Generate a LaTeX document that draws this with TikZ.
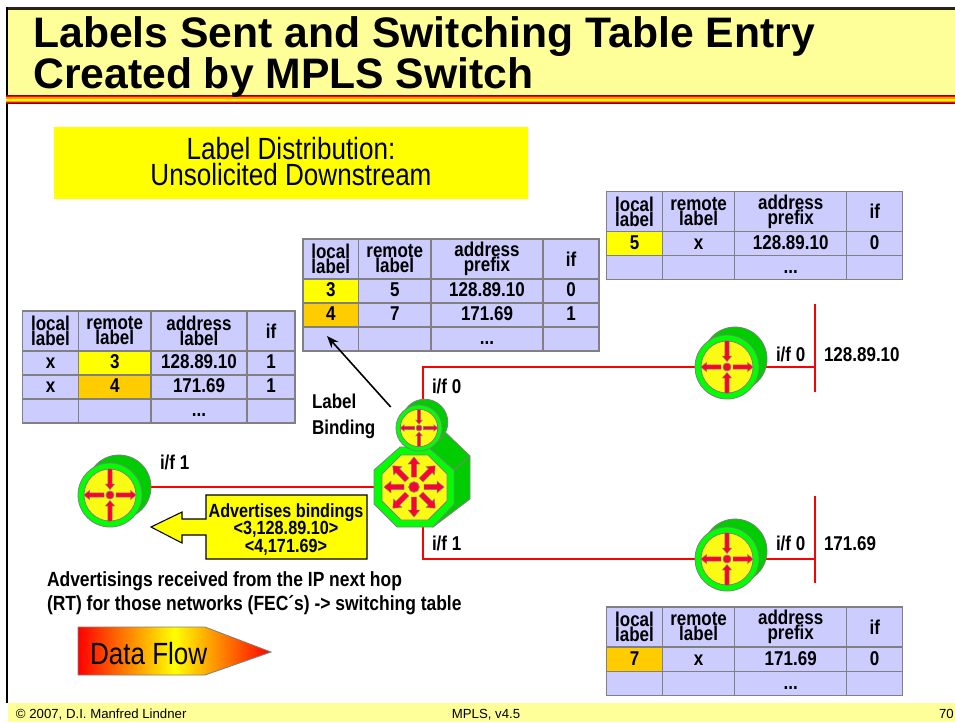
\documentclass[tikz,border=0pt]{standalone}
\usepackage{fontspec}
\setmainfont{Liberation Sans}
\newfontfamily\cond[FakeStretch=0.85]{Liberation Sans}
\usetikzlibrary{arrows.meta}
\definecolor{hdryellow}{HTML}{FFFF99}
\definecolor{tblue}{HTML}{CCCCFF}
\definecolor{torange}{HTML}{FFCC00}
\definecolor{lgreen}{HTML}{00FF00}
\definecolor{dgreen}{HTML}{00CC00}
\definecolor{iconred}{HTML}{FF0033}
\definecolor{icongray}{HTML}{808080}
\definecolor{iconyellow}{HTML}{FAFA14}
\definecolor{pureyellow}{HTML}{FFFF00}
\definecolor{purered}{HTML}{FF0000}
\definecolor{stripedark}{HTML}{8C0000}
\definecolor{stripeorange}{HTML}{FF9900}
\pgfdeclarehorizontalshading{dflowshade}{100bp}{rgb(0bp)=(1,0,0); rgb(25bp)=(1,0,0); rgb(50bp)=(1,1,0); rgb(75bp)=(1,0,0); rgb(100bp)=(1,0,0)}
\newcounter{cellno}
\newcommand{\setcols}[5]{\def\xa{#1}\def\xb{#2}\def\xc{#3}\def\xd{#4}\def\xe{#5}}
\newcommand{\onecell}[6]{\stepcounter{cellno}%
  \node[tcell,fill=#5,minimum width={(#3-#1)*0.75pt},minimum height={(#4-#2)*0.75pt}]
    (c\arabic{cellno}) at ({(#1+#3)/2},{(#2+#4)/2}) {#6};}
\newcommand{\hdrrow}[6]{%
  \onecell{\xa}{#1}{\xb}{#2}{tblue}{#3}\onecell{\xb}{#1}{\xc}{#2}{tblue}{#4}%
  \onecell{\xc}{#1}{\xd}{#2}{tblue}{#5}\onecell{\xd}{#1}{\xe}{#2}{tblue}{#6}}
\newcommand{\datarow}[7]{%
  \onecell{\xa}{#1}{\xb}{#2}{#3}{\dstrut #4}\onecell{\xb}{#1}{\xc}{#2}{tblue}{\dstrut #5}%
  \onecell{\xc}{#1}{\xd}{#2}{tblue}{\dstrut #6}\onecell{\xd}{#1}{\xe}{#2}{tblue}{\dstrut #7}}
\newcommand{\dstrut}{\rule[-2.2pt]{0pt}{13pt}}
% router icon: #1 x, #2 y, #3 back dx, #4 back dy, #5 scale
\newcommand{\routericon}[5]{%
  \begin{scope}[shift={(#1,#2)},scale=#5]
    \fill[dgreen,draw=icongray,icon line] (#3,#4) circle (32);
    \fill[lgreen,draw=icongray,icon line] (0,0) circle (32);
    \fill[iconyellow,draw=icongray,icon line] (0,0) circle (26);
    \foreach \a in {0,180}{\draw[iconarrow,rotate=\a] (6,-2.2) -- (20.5,-2.2) -- (20.5,-4.6) -- (26,0) -- (20.5,4.6) -- (20.5,2.2) -- (6,2.2) -- cycle;}
    \foreach \a in {90,270}{\draw[iconarrow,rotate=\a] (26,-2.2) -- (11,-2.2) -- (11,-4.6) -- (5.5,0) -- (11,4.6) -- (11,2.2) -- (26,2.2) -- cycle;}
    \fill[iconred,draw=icongray,icon line] (0,0) circle (4);
  \end{scope}}
\tikzset{
  x=0.75pt,y=-0.75pt,
  tcell/.style={draw=icongray,line width=0.8pt,inner sep=0pt,outer sep=0pt,align=center,
    font=\fontsize{15}{11.25}\selectfont\cond\bfseries},
  icon line/.style={line width=0.6pt},
  iconarrow/.style={fill=iconred,draw=icongray,line width=0.35pt},
  redline/.style={draw=purered,line width=1.3pt},
  txt/.style={inner sep=0pt,outer sep=0pt,font=\fontsize{15}{18}\selectfont\cond\bfseries},
  bigtxt/.style={inner sep=0pt,outer sep=0pt,font=\fontsize{23}{18}\selectfont\cond},
  foot/.style={inner sep=0pt,outer sep=0pt,font=\fontsize{9.9}{11}\selectfont},
  titletxt/.style={anchor=base west,inner sep=0pt,font=\fontsize{32}{32}\selectfont\bfseries},
}
\begin{document}
\begin{tikzpicture}
\useasboundingbox (0,0) rectangle (955,722);
% frame
\fill[white] (0,0) rectangle (955,722);
\fill[hdryellow] (8,9) rectangle (955,95);
\fill[black!85!hdryellow] (6,7.3) rectangle (955,9.7);
\fill[black] (6,7.3) rectangle (8.3,703);
\fill[hdryellow] (8.3,703) rectangle (955,722);
% stripe
\fill[stripedark] (6,95) rectangle (955,104);
\fill[purered] (6,96) rectangle (955,103);
\fill[stripeorange] (6,97.3) rectangle (955,101.7);
\fill[pureyellow] (6,98.5) rectangle (955,100.5);
% title
\node[titletxt] (t1) at (33,47.5) {Labels Sent and Switching Table Entry};
\node[titletxt] (t2) at (33,88) {Created by MPLS Switch};
% footer
\node[foot,anchor=base west] (f1) at (16,718.5) {© 2007, D.I. Manfred Lindner};
\node[foot,anchor=base] (f2) at (486,718.5) {MPLS, v4.5};
\node[foot,anchor=base west] (f3) at (939,718.5) {70};
% yellow box
\fill[pureyellow] (54,127) rectangle (528,199);
\node[bigtxt,anchor=base] (ld1) at (291,159) {Label Distribution:};
\node[bigtxt,anchor=base] (ld2) at (291,185) {Unsolicited Downstream};
% tables
\setcols{606.5}{662.5}{734.7}{846.7}{902.7}
\hdrrow{191.7}{231.7}{local\\label}{remote\\label}{address\\prefix}{if}
\datarow{231.7}{255.7}{pureyellow}{5}{x}{128.89.10}{0}
\datarow{255.7}{279.3}{tblue}{}{}{...}{}
\setcols{303}{358.5}{431}{543}{599}
\hdrrow{239}{279}{local\\label}{remote\\label}{address\\prefix}{if}
\datarow{279}{303}{pureyellow}{3}{5}{128.89.10}{0}
\datarow{303}{327}{torange}{4}{7}{171.69}{1}
\datarow{327}{351}{tblue}{}{}{...}{}
\setcols{22.5}{78.5}{151}{247}{295}
\hdrrow{311}{351}{local\\label}{remote\\label}{address\\label}{if}
\datarow{351}{375}{tblue}{x}{}{128.89.10}{1}
\datarow{375}{399}{tblue}{x}{}{171.69}{1}
\datarow{399}{423}{tblue}{}{}{...}{}
\onecell{78.5}{351}{151}{375}{pureyellow}{\dstrut 3}
\onecell{78.5}{375}{151}{399}{torange}{\dstrut 4}
\setcols{606.5}{662.5}{734.7}{846.7}{902.7}
\hdrrow{607}{647}{local\\label}{remote\\label}{address\\prefix}{if}
\datarow{647}{671.5}{torange}{7}{x}{171.69}{0}
\datarow{671.5}{695.5}{tblue}{}{}{...}{}
% connector ends
\coordinate (rl) at (150,487);
\coordinate (swl) at (376,487);
\coordinate (swt) at (422.7,410);
\coordinate (swb) at (422.7,525);
\coordinate (rt) at (700,367);
\coordinate (rb) at (700,559);
\coordinate (rte) at (760,367);
\coordinate (rbe) at (760,559);
\coordinate (nt) at (815,367);
\coordinate (nb) at (815,559);
\coordinate (nt1) at (815,303.5);
\coordinate (nt2) at (815,392);
\coordinate (nb1) at (815,496);
\coordinate (nb2) at (815,583);
% red lines
\draw[redline] (rl) -- (swl);
\draw[redline] (swt) |- (rt);
\draw[redline] (swb) |- (rb);
\draw[redline] (rte) -- (nt);
\draw[redline] (rbe) -- (nb);
\draw[redline] (nt1) -- (nt2);
\draw[redline] (nb1) -- (nb2);
% routers
\routericon{110}{495}{9}{-8}{1}
\routericon{727}{367}{8}{-8}{1}
\routericon{727}{559}{8}{-8}{1}
% switch
\fill[dgreen,draw=icongray,icon line] (428,447) -- (442,429) -- (470,456) -- (470,499) -- (433,527) -- cycle;
\draw[icongray,icon line] (454,470) -- (470,456);
\fill[lgreen,draw=icongray,icon line] (400,447) -- (428,447) -- (454,470) -- (454,504) -- (433,527) -- (397,527) -- (374,504) -- (374,470) -- cycle;
\fill[iconyellow,draw=icongray,icon line] (401,455) -- (428,455) -- (447,474) -- (447,501) -- (428,520) -- (401,520) -- (382,501) -- (382,474) -- cycle;
\begin{scope}[shift={(414,487)}]
  \foreach \a in {0,45,...,315}{\draw[iconarrow,rotate=\a] (10,-2.6) -- (23,-2.6) -- (23,-5.8) -- (30,0) -- (23,5.8) -- (23,2.6) -- (10,2.6) -- cycle;}
  \fill[iconred,draw=icongray,icon line] (0,0) circle (5.3);
\end{scope}
\routericon{419}{428}{8}{-8}{0.72}
% label arrow
\coordinate (lba) at (390.7,407);
\coordinate (lbb) at (327,336);
\draw[line width=1.2pt,-{Stealth[length=9pt,width=7pt]}] (lba) -- (lbb);
% labels
\node[txt,anchor=base west] (l1) at (160,469) {i/f 1};
\node[txt,anchor=base west] (l2) at (432,393) {i/f 0};
\node[txt,anchor=base west] (l3) at (432,550) {i/f 1};
\node[txt,anchor=base west] (l4) at (776,361) {i/f 0};
\node[txt,anchor=base west] (l5) at (824,361) {128.89.10};
\node[txt,anchor=base west] (l6) at (776,550) {i/f 0};
\node[txt,anchor=base west] (l7) at (824,550) {171.69};
\node[txt,anchor=base west] (l8) at (312,408) {Label};
\node[txt,anchor=base west] (l9) at (312,434) {Binding};
\node[txt,anchor=base west,font=\fontsize{15.4}{18}\selectfont\cond\bfseries] (l10) at (47,586) {Advertisings received from the IP next hop};
\node[txt,anchor=base west,font=\fontsize{15.4}{18}\selectfont\cond\bfseries] (l11) at (47,610) {(RT) for those networks (FEC´s) -> switching table};
% callout
\draw[fill=pureyellow,draw=black,line width=0.8pt] (206,495) -- (367,495) -- (367,559) -- (206,559) -- (206,535) -- (182,535) -- (182,543) -- (151,527) -- (182,512) -- (182,519) -- (206,519) -- cycle;
\node[txt,anchor=base,font=\fontsize{14.3}{18}\selectfont\cond\bfseries] (a1) at (286,517) {Advertises bindings};
\node[txt,anchor=base,font=\fontsize{14.3}{18}\selectfont\cond\bfseries] (a2) at (286,534) {<3,128.89.10>};
\node[txt,anchor=base,font=\fontsize{14.3}{18}\selectfont\cond\bfseries] (a3) at (286,552) {<4,171.69>};
% data flow
\path[draw=icongray,line width=0.6pt,shading=dflowshade,shading angle=0] (78,627) -- (205,627) -- (271,652) -- (205,675) -- (78,675) -- cycle;
\node[bigtxt,anchor=base west,font=\fontsize{23}{24}\selectfont\cond] (df) at (90,664) {Data Flow};
\end{tikzpicture}
\end{document}
